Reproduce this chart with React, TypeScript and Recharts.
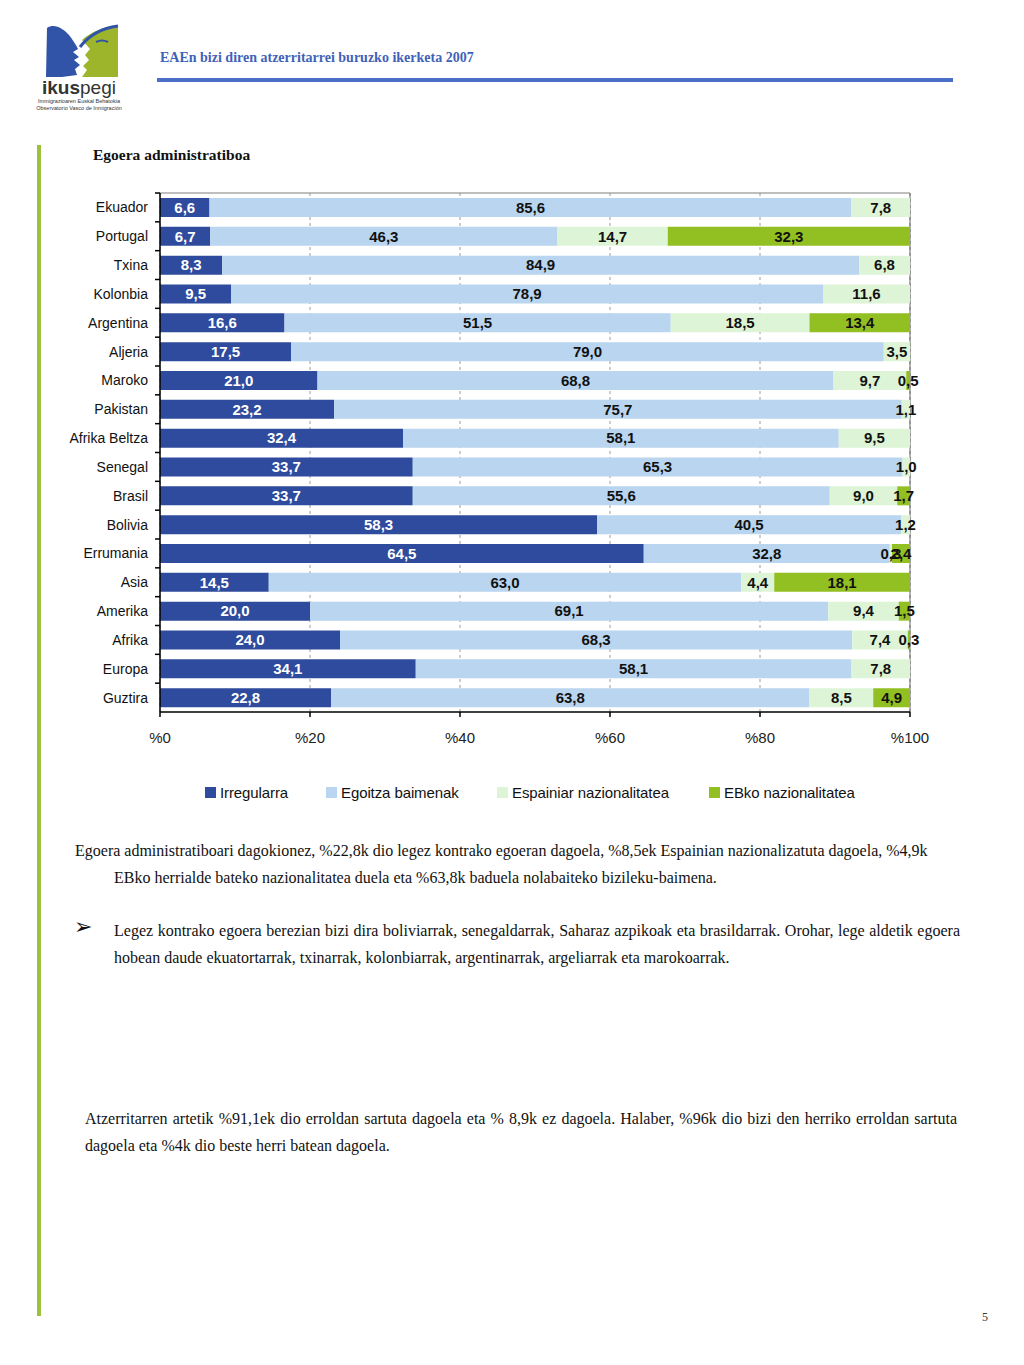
import React from 'react'
import { BarChart, Bar, XAxis, YAxis, CartesianGrid, LabelList } from 'recharts'

const categories = ['Ekuador', 'Portugal', 'Txina', 'Kolonbia', 'Argentina', 'Aljeria', 'Maroko', 'Pakistan', 'Afrika Beltza', 'Senegal', 'Brasil', 'Bolivia', 'Errumania', 'Asia', 'Amerika', 'Afrika', 'Europa', 'Guztira']
const irregularra = [6.6, 6.7, 8.3, 9.5, 16.6, 17.5, 21.0, 23.2, 32.4, 33.7, 33.7, 58.3, 64.5, 14.5, 20.0, 24.0, 34.1, 22.8]
const egoitza = [85.6, 46.3, 84.9, 78.9, 51.5, 79.0, 68.8, 75.7, 58.1, 65.3, 55.6, 40.5, 32.8, 63.0, 69.1, 68.3, 58.1, 63.8]
const espainiar = [7.8, 14.7, 6.8, 11.6, 18.5, 3.5, 9.7, 1.1, 9.5, 1.0, 9.0, 1.2, 0.3, 4.4, 9.4, 7.4, 7.8, 8.5]
const ebko = [0, 32.3, 0, 0, 13.4, 0, 0.5, 0, 0, 0, 1.7, 0, 2.4, 18.1, 1.5, 0.3, 0, 4.9]
const xTicks = [0, 20, 40, 60, 80, 100]
const seriesNames = ['Irregularra', 'Egoitza baimenak', 'Espainiar nazionalitatea', 'EBko nazionalitatea']

const COLORS = ['#2E4B9D', '#B9D5EF', '#DDF4D6', '#92BF22']
const KEYS = ['irr', 'ego', 'esp', 'eb']

const data = categories.map((name, i) => ({
  name,
  irr: irregularra[i],
  ego: egoitza[i],
  esp: espainiar[i],
  eb: ebko[i],
}))

const CHART_W = 900
const CHART_H = 570
const MARGIN = { top: 13, right: 50, left: 0, bottom: 0 }
const X_AXIS_H = 38
const PLOT_H = CHART_H - MARGIN.top - MARGIN.bottom - X_AXIS_H
const BAND = PLOT_H / categories.length

const sans = '"Liberation Sans", Arial, sans-serif'
const serif = '"Liberation Serif", "Times New Roman", serif'

const fmt = (v: any) => (v ? Number(v).toFixed(1).replace('.', ',') : '')

function CategoryTick(props: any) {
  const { x, y, payload } = props
  return (
    <g>
      <text x={x - 12} y={y} dy={5} textAnchor="end" fontSize={14} fill="#111" fontFamily={sans}>
        {payload.value}
      </text>
      <line x1={x - 5} x2={x} y1={y - BAND / 2} y2={y - BAND / 2} stroke="#000" strokeWidth={1.5} />
    </g>
  )
}

// rough version of the ikuspegi logo
function Logo() {
  return (
    <svg width={100} height={95} style={{ position: 'absolute', left: 32, top: 20 }}>
      <path d="M15,8 C22,3 31,8 37,15 C41,20 44,25 46,29 L41,32 L47,37 L42,40 L48,45 L43,49 L45,55 L30,57 L14,57 Z" fill="#3153A8" />
      <path d="M50,20 C60,11 72,7 86,5 L86,57 L50,57 L55,50 L51,46 L57,40 L53,35 L58,29 Z" fill="#9DB52A" />
      <path d="M48,27 C58,14 71,8 86,6" stroke="#3153A8" strokeWidth={3} fill="none" />
      <path d="M64,22 C68,20 72,20 76,22" stroke="#3153A8" strokeWidth={2} fill="none" />
      <text x={47} y={74} textAnchor="middle" fontFamily={sans} fontSize={19} fill="#333">
        <tspan fontWeight="bold">ikus</tspan><tspan>pegi</tspan>
      </text>
      <text x={47} y={83} textAnchor="middle" fontFamily={sans} fontSize={5.5} fill="#333">Immigrazioaren Euskal Behatokia</text>
      <text x={47} y={90} textAnchor="middle" fontFamily={sans} fontSize={5.5} fill="#333">Observatorio Vasco de Inmigración</text>
    </svg>
  )
}

export default function App() {
  return (
    <div style={{ position: 'absolute', left: 0, top: 0, width: 1024, height: 1365, background: '#fff', fontFamily: serif, overflow: 'hidden' }}>
      <Logo />
      <div style={{ position: 'absolute', left: 160, top: 50, fontSize: 14, fontWeight: 'bold', color: '#3F62B8', fontFamily: serif }}>
        EAEn bizi diren atzerritarrei buruzko ikerketa 2007
      </div>
      <div style={{ position: 'absolute', left: 157, top: 78, width: 796, height: 4, background: '#4B6FC9' }} />
      <div style={{ position: 'absolute', left: 37, top: 145, width: 4, height: 1171, background: '#9BC23C' }} />

      <div style={{ position: 'absolute', left: 93, top: 146, fontSize: 15.5, fontWeight: 'bold', color: '#111', fontFamily: serif }}>
        Egoera administratiboa
      </div>

      <div style={{ position: 'absolute', left: 60, top: 180 }}>
        <BarChart width={CHART_W} height={CHART_H} data={data} layout="vertical" margin={MARGIN} barSize={19}>
          <CartesianGrid horizontal={false} stroke="#9a9a9a" strokeDasharray="3 3" />
          {/* plot frame: top and right edges */}
          <CartesianGrid
            stroke="#808080"
            strokeWidth={1.2}
            horizontalCoordinatesGenerator={({ offset }: any) => [offset.top]}
            verticalCoordinatesGenerator={({ offset }: any) => [offset.left + offset.width]}
          />
          <XAxis
            type="number"
            domain={[0, 100]}
            ticks={xTicks}
            tickFormatter={(v) => '%' + v}
            height={X_AXIS_H}
            axisLine={{ stroke: '#000', strokeWidth: 1.5 }}
            tickLine={{ stroke: '#000', strokeWidth: 1.5 }}
            tickSize={5}
            tickMargin={15}
            tick={{ fontSize: 15, fill: '#222', fontFamily: sans }}
          />
          <YAxis
            type="category"
            dataKey="name"
            width={100}
            axisLine={{ stroke: '#000', strokeWidth: 1.5 }}
            tickLine={false}
            tickSize={0}
            tickMargin={0}
            interval={0}
            tick={<CategoryTick />}
          />
          {KEYS.map((k, i) => (
            <Bar key={k} dataKey={k} stackId="a" fill={COLORS[i]} name={seriesNames[i]} isAnimationActive={false}>
              <LabelList
                dataKey={k}
                position="center"
                formatter={fmt}
                fill={i === 0 ? '#fff' : '#111'}
                fontSize={15}
                fontWeight="bold"
                fontFamily={sans}
              />
            </Bar>
          ))}
        </BarChart>
      </div>

      <div style={{ position: 'absolute', left: 205, top: 784, display: 'flex', fontFamily: sans, fontSize: 15, color: '#111', letterSpacing: -0.1 }}>
        {seriesNames.map((n, i) => (
          <div key={n} style={{ display: 'flex', alignItems: 'center', width: [121, 171, 212, 160][i] }}>
            <div style={{ width: 11, height: 11, background: COLORS[i], marginRight: 4 }} />
            <span>{n}</span>
          </div>
        ))}
      </div>

      <div style={{ position: 'absolute', left: 75, top: 837, width: 885, fontSize: 16, lineHeight: '27px', color: '#111', paddingLeft: 39, textIndent: -39, boxSizing: 'border-box' }}>
        Egoera administratiboari dagokionez, %22,8k dio legez kontrako egoeran dagoela, %8,5ek Espainian nazionalizatuta dagoela, %4,9k EBko herrialde bateko nazionalitatea duela eta %63,8k baduela nolabaiteko bizileku-baimena.
      </div>

      <div style={{ position: 'absolute', left: 74, top: 914, fontSize: 22, color: '#111', fontFamily: '"DejaVu Sans", sans-serif' }}>➢</div>
      <div style={{ position: 'absolute', left: 114, top: 917, width: 846, fontSize: 16, lineHeight: '27px', color: '#111', textAlign: 'justify' }}>
        Legez kontrako egoera berezian bizi dira boliviarrak, senegaldarrak, Saharaz azpikoak eta brasildarrak. Orohar, lege aldetik egoera hobean daude ekuatortarrak, txinarrak, kolonbiarrak, argentinarrak, argeliarrak eta marokoarrak.
      </div>

      <div style={{ position: 'absolute', left: 85, top: 1105, width: 872, fontSize: 16, lineHeight: '27px', color: '#111', textAlign: 'justify' }}>
        Atzerritarren artetik %91,1ek dio erroldan sartuta dagoela eta % 8,9k ez dagoela. Halaber, %96k dio bizi den herriko erroldan sartuta dagoela eta %4k dio beste herri batean dagoela.
      </div>

      <div style={{ position: 'absolute', left: 982, top: 1310, fontSize: 12, color: '#333' }}>5</div>
    </div>
  )
}
